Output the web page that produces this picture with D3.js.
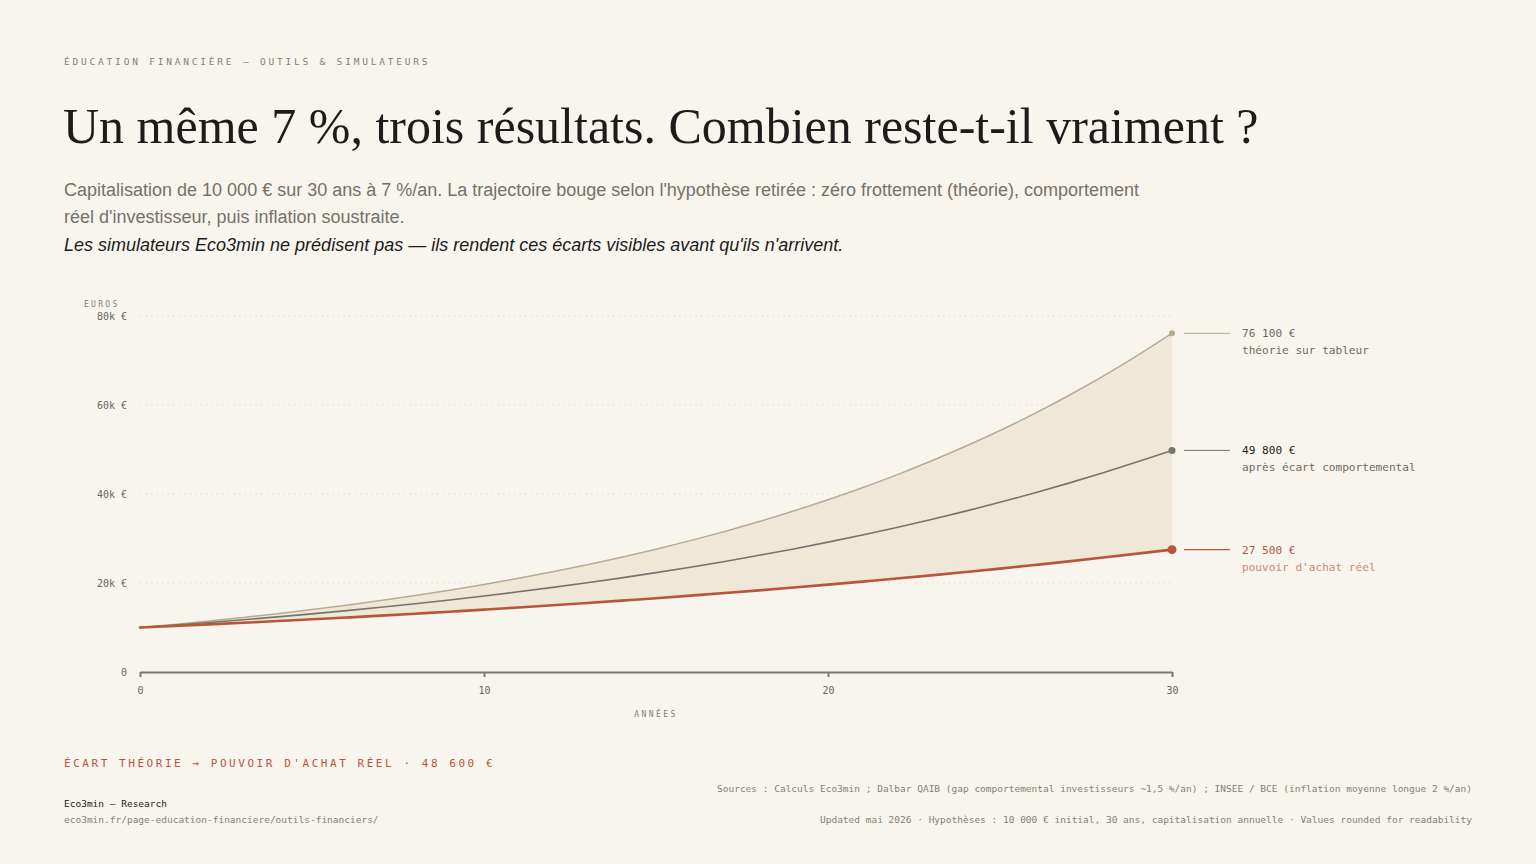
<!DOCTYPE html>
<html lang="fr">
<head>
  <meta charset="UTF-8">
  <title>Un même 7 %, trois résultats</title>
  <script src="https://d3js.org/d3.v7.min.js"></script>
  <style>
    html, body { margin: 0; padding: 0; background: #f8f5ef; }
    svg { display: block; }
    .mono { font-family: "DejaVu Sans Mono", "Liberation Mono", monospace; }
  </style>
</head>
<body>
<svg id="chart" width="1536" height="864"></svg>
<script>
  // Années 0 à 30
  const years = d3.range(0, 31);

  // Capital (€), une valeur par année
  const theorie = [10000, 10700, 11450, 12250, 13110, 14030, 15010, 16060, 17180, 18390,
    19670, 21050, 22520, 24100, 25790, 27590, 29520, 31590, 33800, 36170,
    38700, 41410, 44300, 47410, 50720, 54270, 58070, 62140, 66490, 71140, 76100];
  const comportement = [10000, 10550, 11130, 11740, 12390, 13070, 13790, 14550, 15350, 16190,
    17080, 18020, 19010, 20060, 21160, 22330, 23550, 24850, 26220, 27660,
    29180, 30780, 32480, 34260, 36150, 38130, 40230, 42440, 44780, 47240, 49800];
  const reel = [10000, 10340, 10700, 11070, 11450, 11840, 12240, 12660, 13100, 13550,
    14010, 14490, 14990, 15500, 16040, 16590, 17160, 17740, 18350, 18980,
    19630, 20310, 21000, 21720, 22470, 23240, 24040, 24860, 25720, 26600, 27500];

  const yTicks = [0, 20000, 40000, 60000, 80000];
  const xTicks = [0, 10, 20, 30];

  const series = [
    { key: "theorie", values: theorie, value: "76 100 €", label: "théorie sur tableur",
      color: "#b8ab94", width: 1.5, r: 3, valueColor: "#6f6a62", labelColor: "#6f6a62" },
    { key: "comportement", values: comportement, value: "49 800 €", label: "après écart comportemental",
      color: "#757470", width: 1.6, r: 3.5, valueColor: "#1e1e1e", labelColor: "#6f6a62" },
    { key: "reel", values: reel, value: "27 500 €", label: "pouvoir d'achat réel",
      color: "#b9553a", width: 2.6, r: 4.5, valueColor: "#b9553a", labelColor: "#cf8a72" }
  ];

  const svg = d3.select("#chart");
  const fmtNum = n => d3.format(",")(n).replace(/,/g, " ");

  // En-tête
  svg.append("text").attr("class", "mono")
    .attr("x", 64).attr("y", 65)
    .attr("font-size", 9.5).attr("letter-spacing", 2.8).attr("fill", "#858078")
    .text("ÉDUCATION FINANCIÈRE — OUTILS & SIMULATEURS");

  svg.append("text")
    .attr("x", 63).attr("y", 143)
    .attr("font-family", "'Liberation Serif', 'Times New Roman', serif")
    .attr("font-size", 50).attr("fill", "#1c1c1c")
    .text("Un même 7 %, trois résultats. Combien reste-t-il vraiment ?");

  const sub = [
    "Capitalisation de 10 000 € sur 30 ans à 7 %/an. La trajectoire bouge selon l'hypothèse retirée : zéro frottement (théorie), comportement",
    "réel d'investisseur, puis inflation soustraite."
  ];
  svg.append("g").selectAll("text").data(sub).join("text")
    .attr("x", 64).attr("y", (d, i) => 196 + i * 27)
    .attr("font-family", "'Liberation Sans', Arial, sans-serif")
    .attr("font-size", 18).attr("fill", "#767169")
    .text(d => d);

  svg.append("text")
    .attr("x", 64).attr("y", 251)
    .attr("font-family", "'Liberation Sans', Arial, sans-serif")
    .attr("font-size", 18).attr("font-style", "italic").attr("fill", "#1c1c1c")
    .text("Les simulateurs Eco3min ne prédisent pas — ils rendent ces écarts visibles avant qu'ils n'arrivent.");

  // Zone de tracé
  const x = d3.scaleLinear().domain([0, 30]).range([140, 1172]);
  const y = d3.scaleLinear().domain([0, 80000]).range([672, 316]);

  // Grille pointillée
  svg.append("g").selectAll("line").data(yTicks.filter(d => d > 0)).join("line")
    .attr("x1", x(0)).attr("x2", x(30))
    .attr("y1", d => y(d)).attr("y2", d => y(d))
    .attr("stroke", "#e2ddd3").attr("stroke-width", 1)
    .attr("stroke-dasharray", "1.5,4");

  // Zone entre théorie et pouvoir d'achat réel
  const area = d3.area()
    .x(d => x(d))
    .y0(d => y(reel[d]))
    .y1(d => y(theorie[d]))
    .curve(d3.curveMonotoneX);
  svg.append("path").datum(years)
    .attr("d", area)
    .attr("fill", "#efe7d8");

  // Courbes
  const line = vals => d3.line().x(d => x(d)).y(d => y(vals[d])).curve(d3.curveMonotoneX)(years);
  svg.append("g").selectAll("path").data(series).join("path")
    .attr("d", s => line(s.values))
    .attr("fill", "none")
    .attr("stroke", s => s.color)
    .attr("stroke-width", s => s.width)
    .attr("stroke-linecap", "round");

  // Points finaux + étiquettes
  const ends = svg.append("g").selectAll("g").data(series).join("g")
    .attr("transform", s => `translate(0,${y(s.values[30])})`);
  ends.append("circle")
    .attr("cx", x(30)).attr("r", s => s.r).attr("fill", s => s.color);
  ends.append("line")
    .attr("x1", x(30) + 12).attr("x2", x(30) + 58)
    .attr("stroke", s => s.color).attr("stroke-width", s => s.key === "reel" ? 1.3 : 1);
  ends.append("text").attr("class", "mono")
    .attr("x", 1242).attr("y", 4)
    .attr("font-size", 11.1).attr("fill", s => s.valueColor)
    .text(s => s.value);
  ends.append("text").attr("class", "mono")
    .attr("x", 1242).attr("y", 21)
    .attr("font-size", 11.1).attr("fill", s => s.labelColor)
    .text(s => s.label);

  // Axe Y
  svg.append("g").selectAll("text").data(yTicks).join("text")
    .attr("class", "mono")
    .attr("x", 127).attr("y", d => y(d) + 3.5)
    .attr("text-anchor", "end")
    .attr("font-size", 10).attr("fill", "#6b675f")
    .text(d => d === 0 ? "0" : fmtNum(d / 1000) + "k €");

  svg.append("text").attr("class", "mono")
    .attr("x", 84).attr("y", 307)
    .attr("font-size", 8).attr("letter-spacing", 2.3).attr("fill", "#858078")
    .text("EUROS");

  // Axe X
  const xAxis = svg.append("g").attr("transform", `translate(0,${y(0)})`)
    .call(d3.axisBottom(x).tickValues(xTicks).tickSize(5).tickSizeOuter(0).tickPadding(10));
  xAxis.select(".domain").attr("stroke", "#7a7772").attr("stroke-width", 2);
  xAxis.selectAll(".tick line").attr("stroke", "#7a7772").attr("stroke-width", 2);
  xAxis.selectAll(".tick text")
    .attr("font-family", "'DejaVu Sans Mono', monospace")
    .attr("font-size", 10).attr("fill", "#6b675f");

  svg.append("text").attr("class", "mono")
    .attr("x", (x(0) + x(30)) / 2).attr("y", 717)
    .attr("text-anchor", "middle")
    .attr("font-size", 8).attr("letter-spacing", 2.4).attr("fill", "#858078")
    .text("ANNÉES");

  // Écart
  svg.append("text").attr("class", "mono")
    .attr("x", 64).attr("y", 767)
    .attr("font-size", 11).attr("letter-spacing", 2.55).attr("fill", "#b9553a")
    .text("ÉCART THÉORIE → POUVOIR D'ACHAT RÉEL · " + fmtNum(theorie[30] - reel[30]) + " €");

  // Pied de page
  svg.append("text").attr("class", "mono")
    .attr("x", 64).attr("y", 807)
    .attr("font-size", 9.5).attr("fill", "#222")
    .text("Eco3min — Research");
  svg.append("text").attr("class", "mono")
    .attr("x", 64).attr("y", 823)
    .attr("font-size", 9.5).attr("fill", "#858078")
    .text("eco3min.fr/page-education-financiere/outils-financiers/");
  svg.append("text").attr("class", "mono")
    .attr("x", 1472).attr("y", 792).attr("text-anchor", "end")
    .attr("font-size", 9.5).attr("fill", "#858078")
    .text("Sources : Calculs Eco3min ; Dalbar QAIB (gap comportemental investisseurs ~1,5 %/an) ; INSEE / BCE (inflation moyenne longue 2 %/an)");
  svg.append("text").attr("class", "mono")
    .attr("x", 1472).attr("y", 823).attr("text-anchor", "end")
    .attr("font-size", 9.5).attr("fill", "#858078")
    .text("Updated mai 2026 · Hypothèses : 10 000 € initial, 30 ans, capitalisation annuelle · Values rounded for readability");
</script>
</body>
</html>
